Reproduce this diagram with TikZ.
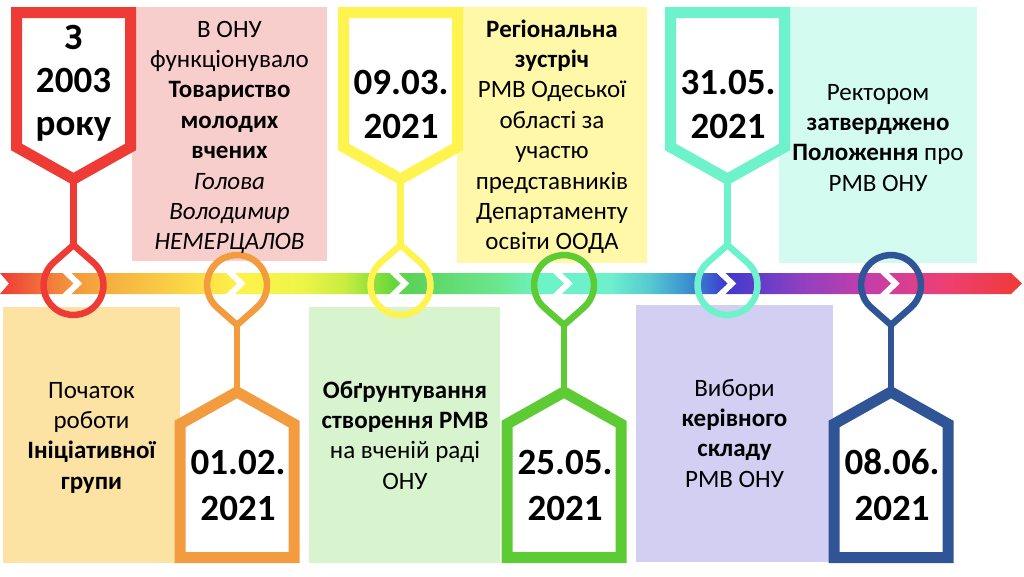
\documentclass[tikz,border=0pt]{standalone}
\usepackage{fontspec}
\setmainfont{Carlito}
\usetikzlibrary{calc}
\definecolor{pRed}{HTML}{EE3B36}
\definecolor{pOrange}{HTML}{F39C3F}
\definecolor{pYellow}{HTML}{FFF44F}
\definecolor{pGreen}{HTML}{5DCB33}
\definecolor{pTeal}{HTML}{6EF2CC}
\definecolor{pBlue}{HTML}{2F5597}
\definecolor{boxPink}{HTML}{F8CECC}
\definecolor{boxYellow}{HTML}{FFF8A8}
\definecolor{boxTeal}{HTML}{D3FBF0}
\definecolor{boxOrange}{HTML}{FCE2A3}
\definecolor{boxGreen}{HTML}{D7F4CF}
\definecolor{boxLav}{HTML}{D2CFF3}
\definecolor{b0}{HTML}{EE3A37}
\definecolor{b1}{HTML}{F3963D}
\definecolor{b2}{HTML}{F5B040}
\definecolor{b3}{HTML}{FBDF48}
\definecolor{b4}{HTML}{FDF24A}
\definecolor{b5}{HTML}{EEF548}
\definecolor{b6}{HTML}{C8EC40}
\definecolor{b7}{HTML}{66D83A}
\definecolor{b8}{HTML}{5CD25A}
\definecolor{b9}{HTML}{6AE890}
\definecolor{b10}{HTML}{6EF2C8}
\definecolor{b11}{HTML}{6EF0CC}
\definecolor{b12}{HTML}{55C8D0}
\definecolor{b13}{HTML}{3A8CD0}
\definecolor{b14}{HTML}{3D3AD0}
\definecolor{b15}{HTML}{9040C0}
\definecolor{b16}{HTML}{C63EA8}
\definecolor{b17}{HTML}{EE3F74}
\definecolor{b18}{HTML}{EF3A33}
\tikzset{
  pentaline/.style={line width=11pt, line join=miter, fill=white},
  pinline/.style={line width=6.5pt, line join=round},
  datetext/.style={font=\fontsize{37}{44}\selectfont\bfseries, anchor=base, inner sep=0pt},
  bodytext/.style={font=\fontsize{25}{30}\selectfont, anchor=base, inner sep=0pt}
}
\newcommand\pentaTop[2]{%
  \draw[pentaline,draw=#2] ({#1-57},12.5) -- ({#1+57},12.5) -- ({#1+57},147) -- (#1,179) -- ({#1-57},147) -- cycle;
  \draw[pinline,draw=#2] (#1,179) -- (#1,245);
}
\newcommand\pentaBot[2]{%
  \draw[pentaline,draw=#2] ({#1-57},557.5) -- ({#1+57},557.5) -- ({#1+57},424) -- (#1,392) -- ({#1-57},424) -- cycle;
  \draw[pinline,draw=#2] (#1,325) -- (#1,392);
}
\newcommand\dropUp[2]{%
  \draw[pinline,draw=#2] (#1,245) -- ($(#1,285)+(-48.6:30)$) arc[start angle=-48.6,end angle=228.6,radius=30] -- cycle;
}
\newcommand\dropDown[2]{%
  \draw[pinline,draw=#2] (#1,325) -- ($(#1,285)+(131.4:30)$) arc[start angle=131.4,end angle=408.6,radius=30] -- cycle;
}
\begin{document}
\begin{tikzpicture}[x=1pt,y=-1pt]
\useasboundingbox (0,0) rectangle (1024,576);
% coloured boxes
\fill[boxOrange] (3,307) rectangle (180,563);
\fill[boxPink] (132,7) rectangle (327,261);
\fill[boxGreen] (309,307) rectangle (500,563);
\fill[boxYellow] (457,7) rectangle (647,263);
\fill[boxLav] (636,305) rectangle (833,562);
\fill[boxTeal] (779,7) rectangle (977,263);
% band
\begin{scope}
\clip (0,273) -- (62.5,273) -- (73.5,283.5) -- (62.5,294) -- (0,294) -- (9,283.5) -- cycle
  (71.5,273) -- (226,273) -- (237,283.5) -- (226,294) -- (71.5,294) -- (82.5,283.5) -- cycle
  (235,273) -- (389.5,273) -- (400.5,283.5) -- (389.5,294) -- (235,294) -- (246,283.5) -- cycle
  (398.5,273) -- (553,273) -- (564,283.5) -- (553,294) -- (398.5,294) -- (409.5,283.5) -- cycle
  (562,273) -- (716.5,273) -- (727.5,283.5) -- (716.5,294) -- (562,294) -- (573,283.5) -- cycle
  (725.5,273) -- (880,273) -- (891,283.5) -- (880,294) -- (725.5,294) -- (736.5,283.5) -- cycle
  (889,273) -- (1011,273) -- (1022,283.5) -- (1011,294) -- (889,294) -- (900,283.5) -- cycle;
\foreach \xa/\xb/\ca/\cb in {0/70/b0/b1, 70/110/b1/b2, 110/200/b2/b3, 200/240/b3/b4, 240/300/b4/b5, 300/345/b5/b6, 345/392/b6/b7, 392/410/b7/b8, 410/500/b8/b9, 500/540/b9/b10, 540/610/b10/b11, 610/650/b11/b12, 650/690/b12/b13, 690/725/b13/b14, 725/800/b14/b15, 800/870/b15/b16, 870/945/b16/b17, 945/1024/b17/b18}{
  \shade[left color=\ca,right color=\cb] (\xa,270) rectangle ({\xb+0.7},297);
}
\end{scope}
% pentagons
\pentaTop{73.5}{pRed}
\pentaBot{237}{pOrange}
\pentaTop{400.5}{pYellow}
\pentaBot{564}{pGreen}
\pentaTop{727.5}{pTeal}
\pentaBot{891}{pBlue}
% drops
\dropUp{73.5}{pRed}
\dropDown{237}{pOrange}
\dropUp{400.5}{pYellow}
\dropDown{564}{pGreen}
\dropUp{727.5}{pTeal}
\dropDown{891}{pBlue}
% date texts
\node[datetext] (d1a) at (73.5,49) {З};
\node[datetext] (d1b) at (73.5,92) {2003};
\node[datetext] (d1c) at (73.5,135) {року};
\node[datetext] (d2a) at (238,474) {01.02.};
\node[datetext] (d2b) at (238,520) {2021};
\node[datetext] (d3a) at (401,94) {09.03.};
\node[datetext] (d3b) at (401,138) {2021};
\node[datetext] (d4a) at (565,474) {25.05.};
\node[datetext] (d4b) at (565,520) {2021};
\node[datetext] (d5a) at (728,94) {31.05.};
\node[datetext] (d5b) at (728,138) {2021};
\node[datetext] (d6a) at (892,474) {08.06.};
\node[datetext] (d6b) at (892,520) {2021};
% box texts
\node[bodytext] (p1) at (91.5,398) {Початок};
\node[bodytext] (p2) at (91.5,428.4) {роботи};
\node[bodytext] (p3) at (91.5,458.8) {\bfseries Ініціативної};
\node[bodytext] (p4) at (91.5,489.2) {\bfseries групи};
\node[bodytext] (k1) at (229.5,37) {В ОНУ};
\node[bodytext] (k2) at (229.5,67.4) {функціонувало};
\node[bodytext] (k3) at (229.5,97.8) {\bfseries Товариство};
\node[bodytext] (k4) at (229.5,128.2) {\bfseries молодих};
\node[bodytext] (k5) at (229.5,158.6) {\bfseries вчених};
\node[bodytext] (k6) at (229.5,189) {\itshape Голова};
\node[bodytext] (k7) at (229.5,219.4) {\itshape Володимир};
\node[bodytext] (k8) at (229.5,249.8) {\itshape НЕМЕРЦАЛОВ};
\node[bodytext] (g1) at (405,398) {\bfseries Обґрунтування};
\node[bodytext] (g2) at (405,428.4) {\bfseries створення РМВ};
\node[bodytext] (g3) at (405,458.8) {на вченій раді};
\node[bodytext] (g4) at (405,489.2) {ОНУ};
\node[bodytext] (y1) at (552,37) {\bfseries Регіональна};
\node[bodytext] (y2) at (552,67.4) {\bfseries зустріч};
\node[bodytext] (y3) at (552,97.8) {РМВ Одеської};
\node[bodytext] (y4) at (552,128.2) {області за};
\node[bodytext] (y5) at (552,158.6) {участю};
\node[bodytext] (y6) at (552,189) {представників};
\node[bodytext] (y7) at (552,219.4) {Департаменту};
\node[bodytext] (y8) at (552,249.8) {освіти ООДА};
\node[bodytext] (l1) at (734.5,396) {Вибори};
\node[bodytext] (l2) at (734.5,426.4) {\bfseries керівного};
\node[bodytext] (l3) at (734.5,456.8) {\bfseries складу};
\node[bodytext] (l4) at (734.5,487.2) {РМВ ОНУ};
\node[bodytext] (t1) at (878,100) {Ректором};
\node[bodytext] (t2) at (878,130.4) {\bfseries затверджено};
\node[bodytext] (t3) at (878,160.8) {\textbf{Положення} про};
\node[bodytext] (t4) at (878,191.2) {РМВ ОНУ};
\end{tikzpicture}
\end{document}
